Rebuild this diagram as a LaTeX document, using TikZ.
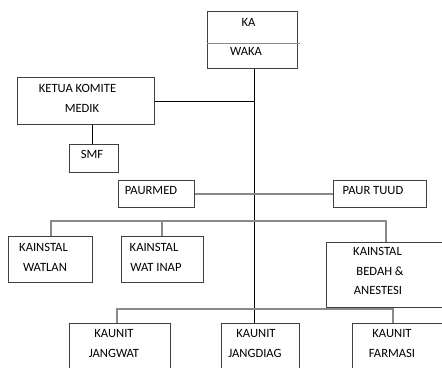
\documentclass[tikz,border=0pt]{standalone}
\usepackage{fontspec}
\setmainfont{Carlito}
\begin{document}
\begin{tikzpicture}[x=1pt,y=-1pt,
  box/.style={draw=boxc, line width=1pt, inner sep=0pt, anchor=north west},
  lbl/.style={inner sep=0pt, font=\fontsize{12.6}{13}\selectfont, text=black},
  conn/.style={draw=linec, line width=1.4pt},
  spine/.style={draw=black, line width=0.9pt}]
\definecolor{boxc}{HTML}{404040}
\definecolor{linec}{HTML}{8A8A8A}
\useasboundingbox (0,0) rectangle (442,367);
\clip (0,0) rectangle (442,367);
% boxes
\node[box, minimum width=90, minimum height=57] (ka) at (207,11) {};
\node[box, minimum width=137, minimum height=47] (kkm) at (17,77) {};
\node[box, minimum width=49, minimum height=28] (smf) at (69,144) {};
\node[box, minimum width=76, minimum height=27] (paurmed) at (118,180) {};
\node[box, minimum width=93, minimum height=27] (paurtuud) at (333,180) {};
\node[box, minimum width=84, minimum height=46] (watlan) at (8,236) {};
\node[box, minimum width=82, minimum height=46] (watinap) at (121,236) {};
\node[box, minimum width=130, minimum height=65] (bedah) at (326,242) {};
\node[box, minimum width=101, minimum height=60] (jangwat) at (69,323) {};
\node[box, minimum width=78, minimum height=60] (jangdiag) at (221,323) {};
\node[box, minimum width=100, minimum height=60] (farmasi) at (352,323) {};
% divider inside the KA box
\coordinate (divL) at (207,43);
\coordinate (divR) at (300,43);
\draw[conn, line width=1pt] (divL) -- (divR);
% labels
\node[lbl] (tka) at (248.5,22) {KA};
\node[lbl] (twaka) at (246,51) {WAKA};
\node[lbl] (tkkm1) at (77.5,88) {KETUA KOMITE};
\node[lbl] (tkkm2) at (82,108) {MEDIK};
\node[lbl] (tsmf) at (92,154) {SMF};
\node[lbl] (tpaurmed) at (151,191) {PAURMED};
\node[lbl] (tpaurtuud) at (373,191) {PAUR TUUD};
\node[lbl] (tw1) at (43.5,247) {KAINSTAL};
\node[lbl] (tw2) at (45,267) {WATLAN};
\node[lbl] (ti1) at (154,247) {KAINSTAL};
\node[lbl] (ti2) at (156,267) {WAT INAP};
\node[lbl] (tb1) at (377.5,251) {KAINSTAL};
\node[lbl] (tb2) at (380,271) {BEDAH \&};
\node[lbl] (tb3) at (378,290) {ANESTESI};
\node[lbl] (tj1) at (114,333) {KAUNIT};
\node[lbl] (tj2) at (114,353) {JANGWAT};
\node[lbl] (td1) at (256,333) {KAUNIT};
\node[lbl] (td2) at (255,353) {JANGDIAG};
\node[lbl] (tf1) at (392,333) {KAUNIT};
\node[lbl] (tf2) at (392,353) {FARMASI};
% branch points
\coordinate (instL) at (51,221);
\coordinate (instM) at (162,221);
\coordinate (instR) at (386,221);
\coordinate (unitL) at (117,309);
\coordinate (unitR) at (393,309);
% connectors
\draw[spine] (ka.south -| 254,0) -- (jangdiag.north -| 254,0);
\draw[spine] (kkm.east) -- (kkm.east -| 254,0);
\draw[spine] (smf.north -| 92,0) -- (kkm.south -| 92,0);
\draw[conn] (paurmed.east) -- (paurtuud.west);
\draw[conn] (watlan.north -| instL) -- (instL) -- (instR) -- (bedah.north -| instR);
\draw[conn] (watinap.north -| instM) -- (instM);
\draw[conn] (jangwat.north -| unitL) -- (unitL) -- (unitR) -- (farmasi.north -| unitR);
\end{tikzpicture}
\end{document}
